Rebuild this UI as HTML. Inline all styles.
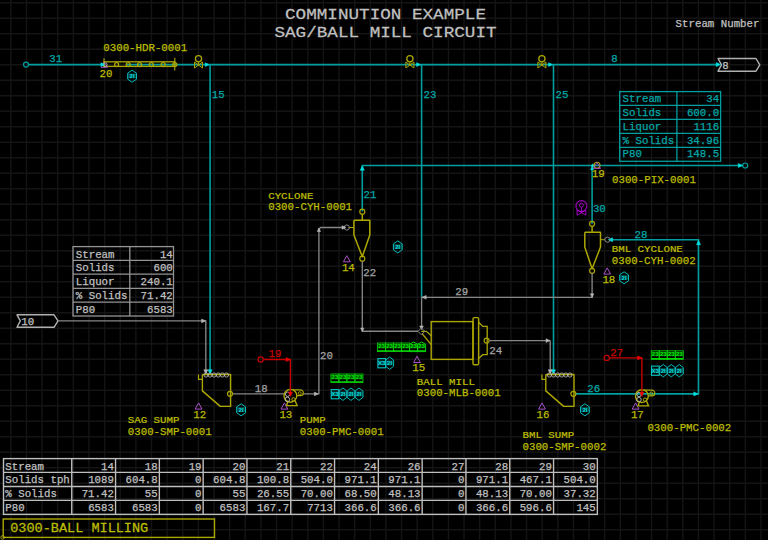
<!DOCTYPE html>
<html><head><meta charset="utf-8"><title>Comminution Example - SAG/Ball Mill Circuit</title>
<style>
html,body{margin:0;padding:0;background:#000;}
body{width:768px;height:540px;overflow:hidden;}
svg{display:block;font-family:"Liberation Mono",monospace;}
svg text{white-space:pre;}
</style></head><body>
<svg width="768" height="540" viewBox="0 0 768 540">
<rect width="768" height="540" fill="#000"/>
<path d="M10.85 0V540M26.48 0V540M42.10 0V540M57.73 0V540M73.36 0V540M88.98 0V540M104.61 0V540M120.24 0V540M135.87 0V540M151.49 0V540M167.12 0V540M182.75 0V540M198.37 0V540M214.00 0V540M229.63 0V540M245.25 0V540M260.88 0V540M276.51 0V540M292.14 0V540M307.76 0V540M323.39 0V540M339.02 0V540M354.64 0V540M370.27 0V540M385.90 0V540M401.53 0V540M417.15 0V540M432.78 0V540M448.41 0V540M464.03 0V540M479.66 0V540M495.29 0V540M510.91 0V540M526.54 0V540M542.17 0V540M557.80 0V540M573.42 0V540M589.05 0V540M604.68 0V540M620.30 0V540M635.93 0V540M651.56 0V540M667.18 0V540M682.81 0V540M698.44 0V540M714.07 0V540M729.69 0V540M745.32 0V540M760.95 0V540M0 2.80H768M0 18.30H768M0 33.80H768M0 49.30H768M0 64.80H768M0 80.30H768M0 95.80H768M0 111.30H768M0 126.80H768M0 142.30H768M0 157.80H768M0 173.30H768M0 188.80H768M0 204.30H768M0 219.80H768M0 235.30H768M0 250.80H768M0 266.30H768M0 281.80H768M0 297.30H768M0 312.80H768M0 328.30H768M0 343.80H768M0 359.30H768M0 374.80H768M0 390.30H768M0 405.80H768M0 421.30H768M0 436.80H768M0 452.30H768M0 467.80H768M0 483.30H768M0 498.80H768M0 514.30H768M0 529.80H768" stroke="#141414" stroke-width="1.4" fill="none"/>
<text transform="translate(385.50 18.75) scale(1.160 1)" font-size="15.20" fill="#c0c0c0" stroke="#c0c0c0" stroke-width="0.25" text-anchor="middle" font-weight="normal">COMMINUTION EXAMPLE</text>
<text transform="translate(385.50 37.00) scale(1.160 1)" font-size="15.20" fill="#c0c0c0" stroke="#c0c0c0" stroke-width="0.25" text-anchor="middle" font-weight="normal">SAG/BALL MILL CIRCUIT</text>
<text x="675.60" y="27.00" font-size="10.75" fill="#c0c0c0" stroke="#c0c0c0" stroke-width="0.25" text-anchor="start" font-weight="normal">Stream Number</text>
<path d="M28.80 64.60 L104.00 64.60" stroke="#009e9e" stroke-width="1.60" fill="none" />
<path d="M126.50 64.60 L719.00 64.60" stroke="#009e9e" stroke-width="1.60" fill="none" />
<circle cx="26.00" cy="64.60" r="2.50" stroke="#009e9e" stroke-width="1.20" fill="none"/>
<text x="49.20" y="62.40" font-size="10.75" fill="#00a8a8" stroke="#00a8a8" stroke-width="0.25" text-anchor="start" font-weight="normal">31</text>
<text x="611.30" y="62.40" font-size="10.75" fill="#00a8a8" stroke="#00a8a8" stroke-width="0.25" text-anchor="start" font-weight="normal">8</text>
<path d="M210.10 64.60 L210.10 373.00" stroke="#009e9e" stroke-width="1.60" fill="none" />
<path d="M421.60 64.60 L421.60 297.00" stroke="#009e9e" stroke-width="1.60" fill="none" />
<path d="M553.50 64.60 L553.50 373.00" stroke="#009e9e" stroke-width="1.60" fill="none" />
<path d="M210.10 374.00 L208.10 369.80 L212.10 369.80 Z" stroke="#00e0e0" stroke-width="0.60" fill="#00e0e0" stroke-linejoin="round"/>
<path d="M553.50 374.00 L551.50 369.80 L555.50 369.80 Z" stroke="#00e0e0" stroke-width="0.60" fill="#00e0e0" stroke-linejoin="round"/>
<text x="211.80" y="98.00" font-size="10.75" fill="#00a8a8" stroke="#00a8a8" stroke-width="0.25" text-anchor="start" font-weight="normal">15</text>
<text x="423.60" y="98.00" font-size="10.75" fill="#00a8a8" stroke="#00a8a8" stroke-width="0.25" text-anchor="start" font-weight="normal">23</text>
<text x="555.60" y="98.00" font-size="10.75" fill="#00a8a8" stroke="#00a8a8" stroke-width="0.25" text-anchor="start" font-weight="normal">25</text>
<path d="M362.30 211.50 L362.30 165.50 L742.50 165.50" stroke="#009e9e" stroke-width="1.60" fill="none" />
<circle cx="745.20" cy="165.50" r="2.50" stroke="#009e9e" stroke-width="1.20" fill="none"/>
<path d="M742.50 165.50 L738.30 163.50 L738.30 167.50 Z" stroke="#00e0e0" stroke-width="0.60" fill="#00e0e0" stroke-linejoin="round"/>
<path d="M362.30 166.00 L360.30 170.20 L364.30 170.20 Z" stroke="#00e0e0" stroke-width="0.60" fill="#00e0e0" stroke-linejoin="round"/>
<path d="M592.10 165.50 L592.10 223.80" stroke="#009e9e" stroke-width="1.60" fill="none" />
<path d="M592.10 166.50 L590.60 169.70 L593.60 169.70 Z" stroke="#00e0e0" stroke-width="0.60" fill="#00e0e0" stroke-linejoin="round"/>
<path d="M595.20 165.50 L592.00 164.00 L592.00 167.00 Z" stroke="#00e0e0" stroke-width="0.60" fill="#00e0e0" stroke-linejoin="round"/>
<text x="363.60" y="198.30" font-size="10.75" fill="#00a8a8" stroke="#00a8a8" stroke-width="0.25" text-anchor="start" font-weight="normal">21</text>
<text x="592.90" y="212.40" font-size="10.75" fill="#00a8a8" stroke="#00a8a8" stroke-width="0.25" text-anchor="start" font-weight="normal">30</text>
<path d="M610.00 239.70 L698.50 239.70 L698.50 393.90 L575.70 393.90" stroke="#009e9e" stroke-width="1.60" fill="none" />
<path d="M608.30 239.70 L612.50 237.70 L612.50 241.70 Z" stroke="#00e0e0" stroke-width="0.60" fill="#00e0e0" stroke-linejoin="round"/>
<path d="M698.50 240.50 L696.50 244.70 L700.50 244.70 Z" stroke="#00e0e0" stroke-width="0.60" fill="#00e0e0" stroke-linejoin="round"/>
<path d="M698.00 393.90 L693.80 391.90 L693.80 395.90 Z" stroke="#00e0e0" stroke-width="0.60" fill="#00e0e0" stroke-linejoin="round"/>
<text x="634.50" y="237.60" font-size="10.75" fill="#00a8a8" stroke="#00a8a8" stroke-width="0.25" text-anchor="start" font-weight="normal">28</text>
<text x="587.20" y="391.50" font-size="10.75" fill="#00a8a8" stroke="#00a8a8" stroke-width="0.25" text-anchor="start" font-weight="normal">26</text>
<circle cx="198.50" cy="58.70" r="3.10" stroke="#aca700" stroke-width="1.30" fill="none"/>
<path d="M198.50 61.80 L198.50 65.00" stroke="#aca700" stroke-width="1.00" fill="none" />
<path d="M194.50 62.00 L194.50 68.00 L202.50 62.00 L202.50 68.00 Z" stroke="#aca700" stroke-width="1.00" fill="none" stroke-linejoin="round"/>
<path d="M209.00 64.60 L205.20 62.80 L205.20 66.40 Z" stroke="#00e0e0" stroke-width="0.60" fill="#00e0e0" stroke-linejoin="round"/>
<circle cx="409.90" cy="58.70" r="3.10" stroke="#aca700" stroke-width="1.30" fill="none"/>
<path d="M409.90 61.80 L409.90 65.00" stroke="#aca700" stroke-width="1.00" fill="none" />
<path d="M405.90 62.00 L405.90 68.00 L413.90 62.00 L413.90 68.00 Z" stroke="#aca700" stroke-width="1.00" fill="none" stroke-linejoin="round"/>
<path d="M420.40 64.60 L416.60 62.80 L416.60 66.40 Z" stroke="#00e0e0" stroke-width="0.60" fill="#00e0e0" stroke-linejoin="round"/>
<circle cx="541.90" cy="58.70" r="3.10" stroke="#aca700" stroke-width="1.30" fill="none"/>
<path d="M541.90 61.80 L541.90 65.00" stroke="#aca700" stroke-width="1.00" fill="none" />
<path d="M537.90 62.00 L537.90 68.00 L545.90 62.00 L545.90 68.00 Z" stroke="#aca700" stroke-width="1.00" fill="none" stroke-linejoin="round"/>
<path d="M552.40 64.60 L548.60 62.80 L548.60 66.40 Z" stroke="#00e0e0" stroke-width="0.60" fill="#00e0e0" stroke-linejoin="round"/>
<text x="103.30" y="51.30" font-size="10.75" fill="#bcbc00" stroke="#bcbc00" stroke-width="0.25" text-anchor="start" font-weight="normal">0300-HDR-0001</text>
<rect x="104" y="61.8" width="70.8" height="4.6" stroke="#aca700" stroke-width="1.3" fill="none"/>
<path d="M104.00 58.30 L104.00 67.50" stroke="#aca700" stroke-width="1.10" fill="none" />
<path d="M174.80 57.80 L174.80 70.60" stroke="#aca700" stroke-width="1.10" fill="none" />
<circle cx="116.60" cy="64.60" r="2.00" stroke="#aca700" stroke-width="1.30" fill="none"/>
<circle cx="128.20" cy="64.60" r="2.00" stroke="#aca700" stroke-width="1.30" fill="none"/>
<circle cx="139.60" cy="64.60" r="2.00" stroke="#aca700" stroke-width="1.30" fill="none"/>
<circle cx="151.40" cy="64.60" r="2.00" stroke="#aca700" stroke-width="1.30" fill="none"/>
<circle cx="163.20" cy="64.60" r="2.00" stroke="#aca700" stroke-width="1.30" fill="none"/>
<circle cx="174.80" cy="64.60" r="2.00" stroke="#aca700" stroke-width="1.30" fill="none"/>
<path d="M101.00 67.30 L107.60 67.30 L104.30 62.50 Z" stroke="#a850c8" stroke-width="0.90" fill="none" stroke-linejoin="round"/>
<circle cx="105.20" cy="64.60" r="1.90" stroke="#c0c0c0" stroke-width="0.80" fill="none"/>
<path d="M104.50 64.60 L100.90 62.80 L100.90 66.40 Z" stroke="#00e0e0" stroke-width="0.60" fill="#00e0e0" stroke-linejoin="round"/>
<text x="99.60" y="76.50" font-size="10.75" fill="#bcbc00" stroke="#bcbc00" stroke-width="0.25" text-anchor="start" font-weight="normal">20</text>
<path d="M132.10 70.20 L136.50 73.20 L136.50 79.20 L132.10 82.20 L127.70 79.20 L127.70 73.20 Z" stroke="#00c4c4" stroke-width="0.95" fill="none" stroke-linejoin="round"/>
<rect x="127.70" y="73.40" width="8.80" height="5.00" fill="#00c4c4" fill-opacity="0.32" stroke="none"/>
<text x="132.10" y="78.20" font-size="6" fill="#00e0e0" text-anchor="middle" font-weight="bold" font-family="Liberation Sans">2I</text>
<path d="M397.80 240.90 L402.20 243.90 L402.20 249.90 L397.80 252.90 L393.40 249.90 L393.40 243.90 Z" stroke="#00c4c4" stroke-width="0.95" fill="none" stroke-linejoin="round"/>
<rect x="393.40" y="244.10" width="8.80" height="5.00" fill="#00c4c4" fill-opacity="0.32" stroke="none"/>
<text x="397.80" y="248.90" font-size="6" fill="#00e0e0" text-anchor="middle" font-weight="bold" font-family="Liberation Sans">2I</text>
<path d="M241.10 403.80 L245.50 406.80 L245.50 412.80 L241.10 415.80 L236.70 412.80 L236.70 406.80 Z" stroke="#00c4c4" stroke-width="0.95" fill="none" stroke-linejoin="round"/>
<rect x="236.70" y="407.00" width="8.80" height="5.00" fill="#00c4c4" fill-opacity="0.32" stroke="none"/>
<text x="241.10" y="411.80" font-size="6" fill="#00e0e0" text-anchor="middle" font-weight="bold" font-family="Liberation Sans">2I</text>
<path d="M584.90 403.80 L589.30 406.80 L589.30 412.80 L584.90 415.80 L580.50 412.80 L580.50 406.80 Z" stroke="#00c4c4" stroke-width="0.95" fill="none" stroke-linejoin="round"/>
<rect x="580.50" y="407.00" width="8.80" height="5.00" fill="#00c4c4" fill-opacity="0.32" stroke="none"/>
<text x="584.90" y="411.80" font-size="6" fill="#00e0e0" text-anchor="middle" font-weight="bold" font-family="Liberation Sans">2I</text>
<path d="M624.10 271.80 L628.50 274.80 L628.50 280.80 L624.10 283.80 L619.70 280.80 L619.70 274.80 Z" stroke="#00c4c4" stroke-width="0.95" fill="none" stroke-linejoin="round"/>
<rect x="619.70" y="275.00" width="8.80" height="5.00" fill="#00c4c4" fill-opacity="0.32" stroke="none"/>
<text x="624.10" y="279.80" font-size="6" fill="#00e0e0" text-anchor="middle" font-weight="bold" font-family="Liberation Sans">2I</text>
<path d="M718.00 58.50 L756.00 58.50 L759.80 64.80 L756.00 71.20 L718.00 71.20 L721.50 64.80 Z" stroke="#b0b0b0" stroke-width="1.40" fill="none" stroke-linejoin="round"/>
<text x="722.30" y="68.80" font-size="10.75" fill="#c0c0c0" stroke="#c0c0c0" stroke-width="0.25" text-anchor="start" font-weight="normal">8</text>
<path d="M720.50 64.60 L716.30 62.60 L716.30 66.60 Z" stroke="#00e0e0" stroke-width="0.60" fill="#00e0e0" stroke-linejoin="round"/>
<path d="M17.00 314.80 L54.00 314.80 L58.00 320.90 L54.00 327.30 L17.00 327.30 L20.30 320.90 Z" stroke="#b0b0b0" stroke-width="1.40" fill="none" stroke-linejoin="round"/>
<text x="21.20" y="325.20" font-size="10.75" fill="#c0c0c0" stroke="#c0c0c0" stroke-width="0.25" text-anchor="start" font-weight="normal">10</text>
<path d="M58.00 320.90 L205.80 320.90 L205.80 373.00" stroke="#868686" stroke-width="1.35" fill="none" />
<path d="M205.60 320.90 L201.60 319.10 L201.60 322.70 Z" stroke="#b4b4b4" stroke-width="0.60" fill="#b4b4b4" stroke-linejoin="round"/>
<path d="M205.80 374.00 L203.80 369.80 L207.80 369.80 Z" stroke="#b4b4b4" stroke-width="0.60" fill="#b4b4b4" stroke-linejoin="round"/>
<rect x="619.70" y="91.60" width="100.90" height="69.70" stroke="#009e9e" stroke-width="1.3" fill="none"/>
<path d="M676.90 91.60 L676.90 161.30" stroke="#009e9e" stroke-width="1.30" fill="none" />
<path d="M619.70 105.40 L720.60 105.40" stroke="#009e9e" stroke-width="1.30" fill="none" />
<path d="M619.70 119.40 L720.60 119.40" stroke="#009e9e" stroke-width="1.30" fill="none" />
<path d="M619.70 133.40 L720.60 133.40" stroke="#009e9e" stroke-width="1.30" fill="none" />
<path d="M619.70 147.30 L720.60 147.30" stroke="#009e9e" stroke-width="1.30" fill="none" />
<text x="622.60" y="101.70" font-size="10.75" fill="#00a8a8" stroke="#00a8a8" stroke-width="0.25" text-anchor="start" font-weight="normal">Stream</text>
<text x="719.20" y="101.70" font-size="10.75" fill="#00a8a8" stroke="#00a8a8" stroke-width="0.25" text-anchor="end" font-weight="normal">34</text>
<text x="622.60" y="115.50" font-size="10.75" fill="#00a8a8" stroke="#00a8a8" stroke-width="0.25" text-anchor="start" font-weight="normal">Solids</text>
<text x="719.20" y="115.50" font-size="10.75" fill="#00a8a8" stroke="#00a8a8" stroke-width="0.25" text-anchor="end" font-weight="normal">600.0</text>
<text x="622.60" y="129.50" font-size="10.75" fill="#00a8a8" stroke="#00a8a8" stroke-width="0.25" text-anchor="start" font-weight="normal">Liquor</text>
<text x="719.20" y="129.50" font-size="10.75" fill="#00a8a8" stroke="#00a8a8" stroke-width="0.25" text-anchor="end" font-weight="normal">1116</text>
<text x="622.60" y="143.50" font-size="10.75" fill="#00a8a8" stroke="#00a8a8" stroke-width="0.25" text-anchor="start" font-weight="normal">% Solids</text>
<text x="719.20" y="143.50" font-size="10.75" fill="#00a8a8" stroke="#00a8a8" stroke-width="0.25" text-anchor="end" font-weight="normal">34.96</text>
<text x="622.60" y="157.40" font-size="10.75" fill="#00a8a8" stroke="#00a8a8" stroke-width="0.25" text-anchor="start" font-weight="normal">P80</text>
<text x="719.20" y="157.40" font-size="10.75" fill="#00a8a8" stroke="#00a8a8" stroke-width="0.25" text-anchor="end" font-weight="normal">148.5</text>
<rect x="73.00" y="246.60" width="100.50" height="69.40" stroke="#949494" stroke-width="1.3" fill="none"/>
<path d="M129.80 246.60 L129.80 316.00" stroke="#949494" stroke-width="1.30" fill="none" />
<path d="M73.00 260.30 L173.50 260.30" stroke="#949494" stroke-width="1.30" fill="none" />
<path d="M73.00 274.20 L173.50 274.20" stroke="#949494" stroke-width="1.30" fill="none" />
<path d="M73.00 288.30 L173.50 288.30" stroke="#949494" stroke-width="1.30" fill="none" />
<path d="M73.00 302.20 L173.50 302.20" stroke="#949494" stroke-width="1.30" fill="none" />
<text x="75.80" y="257.50" font-size="10.75" fill="#c0c0c0" stroke="#c0c0c0" stroke-width="0.25" text-anchor="start" font-weight="normal">Stream</text>
<text x="172.80" y="257.50" font-size="10.75" fill="#c0c0c0" stroke="#c0c0c0" stroke-width="0.25" text-anchor="end" font-weight="normal">14</text>
<text x="75.80" y="271.20" font-size="10.75" fill="#c0c0c0" stroke="#c0c0c0" stroke-width="0.25" text-anchor="start" font-weight="normal">Solids</text>
<text x="172.80" y="271.20" font-size="10.75" fill="#c0c0c0" stroke="#c0c0c0" stroke-width="0.25" text-anchor="end" font-weight="normal">600</text>
<text x="75.80" y="285.10" font-size="10.75" fill="#c0c0c0" stroke="#c0c0c0" stroke-width="0.25" text-anchor="start" font-weight="normal">Liquor</text>
<text x="172.80" y="285.10" font-size="10.75" fill="#c0c0c0" stroke="#c0c0c0" stroke-width="0.25" text-anchor="end" font-weight="normal">240.1</text>
<text x="75.80" y="299.20" font-size="10.75" fill="#c0c0c0" stroke="#c0c0c0" stroke-width="0.25" text-anchor="start" font-weight="normal">% Solids</text>
<text x="172.80" y="299.20" font-size="10.75" fill="#c0c0c0" stroke="#c0c0c0" stroke-width="0.25" text-anchor="end" font-weight="normal">71.42</text>
<text x="75.80" y="313.10" font-size="10.75" fill="#c0c0c0" stroke="#c0c0c0" stroke-width="0.25" text-anchor="start" font-weight="normal">P80</text>
<text x="172.80" y="313.10" font-size="10.75" fill="#c0c0c0" stroke="#c0c0c0" stroke-width="0.25" text-anchor="end" font-weight="normal">6583</text>
<rect x="3.50" y="458.60" width="593.85" height="55.80" stroke="#bebebe" stroke-width="1.4" fill="none"/>
<path d="M71.75 458.60 L71.75 514.40" stroke="#bebebe" stroke-width="1.40" fill="none" />
<path d="M115.55 458.60 L115.55 514.40" stroke="#bebebe" stroke-width="1.40" fill="none" />
<path d="M159.35 458.60 L159.35 514.40" stroke="#bebebe" stroke-width="1.40" fill="none" />
<path d="M203.15 458.60 L203.15 514.40" stroke="#bebebe" stroke-width="1.40" fill="none" />
<path d="M246.95 458.60 L246.95 514.40" stroke="#bebebe" stroke-width="1.40" fill="none" />
<path d="M290.75 458.60 L290.75 514.40" stroke="#bebebe" stroke-width="1.40" fill="none" />
<path d="M334.55 458.60 L334.55 514.40" stroke="#bebebe" stroke-width="1.40" fill="none" />
<path d="M378.35 458.60 L378.35 514.40" stroke="#bebebe" stroke-width="1.40" fill="none" />
<path d="M422.15 458.60 L422.15 514.40" stroke="#bebebe" stroke-width="1.40" fill="none" />
<path d="M465.95 458.60 L465.95 514.40" stroke="#bebebe" stroke-width="1.40" fill="none" />
<path d="M509.75 458.60 L509.75 514.40" stroke="#bebebe" stroke-width="1.40" fill="none" />
<path d="M553.55 458.60 L553.55 514.40" stroke="#bebebe" stroke-width="1.40" fill="none" />
<path d="M3.50 472.40 L597.35 472.40" stroke="#bebebe" stroke-width="1.40" fill="none" />
<path d="M3.50 486.50 L597.35 486.50" stroke="#bebebe" stroke-width="1.40" fill="none" />
<path d="M3.50 500.40 L597.35 500.40" stroke="#bebebe" stroke-width="1.40" fill="none" />
<text x="5.30" y="469.50" font-size="10.75" fill="#c0c0c0" stroke="#c0c0c0" stroke-width="0.25" text-anchor="start" font-weight="normal">Stream</text>
<text x="113.95" y="469.50" font-size="10.75" fill="#c0c0c0" stroke="#c0c0c0" stroke-width="0.25" text-anchor="end" font-weight="normal">14</text>
<text x="157.75" y="469.50" font-size="10.75" fill="#c0c0c0" stroke="#c0c0c0" stroke-width="0.25" text-anchor="end" font-weight="normal">18</text>
<text x="201.55" y="469.50" font-size="10.75" fill="#c0c0c0" stroke="#c0c0c0" stroke-width="0.25" text-anchor="end" font-weight="normal">19</text>
<text x="245.35" y="469.50" font-size="10.75" fill="#c0c0c0" stroke="#c0c0c0" stroke-width="0.25" text-anchor="end" font-weight="normal">20</text>
<text x="289.15" y="469.50" font-size="10.75" fill="#c0c0c0" stroke="#c0c0c0" stroke-width="0.25" text-anchor="end" font-weight="normal">21</text>
<text x="332.95" y="469.50" font-size="10.75" fill="#c0c0c0" stroke="#c0c0c0" stroke-width="0.25" text-anchor="end" font-weight="normal">22</text>
<text x="376.75" y="469.50" font-size="10.75" fill="#c0c0c0" stroke="#c0c0c0" stroke-width="0.25" text-anchor="end" font-weight="normal">24</text>
<text x="420.55" y="469.50" font-size="10.75" fill="#c0c0c0" stroke="#c0c0c0" stroke-width="0.25" text-anchor="end" font-weight="normal">26</text>
<text x="464.35" y="469.50" font-size="10.75" fill="#c0c0c0" stroke="#c0c0c0" stroke-width="0.25" text-anchor="end" font-weight="normal">27</text>
<text x="508.15" y="469.50" font-size="10.75" fill="#c0c0c0" stroke="#c0c0c0" stroke-width="0.25" text-anchor="end" font-weight="normal">28</text>
<text x="551.95" y="469.50" font-size="10.75" fill="#c0c0c0" stroke="#c0c0c0" stroke-width="0.25" text-anchor="end" font-weight="normal">29</text>
<text x="595.75" y="469.50" font-size="10.75" fill="#c0c0c0" stroke="#c0c0c0" stroke-width="0.25" text-anchor="end" font-weight="normal">30</text>
<text x="5.30" y="483.30" font-size="10.75" fill="#c0c0c0" stroke="#c0c0c0" stroke-width="0.25" text-anchor="start" font-weight="normal">Solids tph</text>
<text x="113.95" y="483.30" font-size="10.75" fill="#c0c0c0" stroke="#c0c0c0" stroke-width="0.25" text-anchor="end" font-weight="normal">1089</text>
<text x="157.75" y="483.30" font-size="10.75" fill="#c0c0c0" stroke="#c0c0c0" stroke-width="0.25" text-anchor="end" font-weight="normal">604.8</text>
<text x="201.55" y="483.30" font-size="10.75" fill="#c0c0c0" stroke="#c0c0c0" stroke-width="0.25" text-anchor="end" font-weight="normal">0</text>
<text x="245.35" y="483.30" font-size="10.75" fill="#c0c0c0" stroke="#c0c0c0" stroke-width="0.25" text-anchor="end" font-weight="normal">604.8</text>
<text x="289.15" y="483.30" font-size="10.75" fill="#c0c0c0" stroke="#c0c0c0" stroke-width="0.25" text-anchor="end" font-weight="normal">100.8</text>
<text x="332.95" y="483.30" font-size="10.75" fill="#c0c0c0" stroke="#c0c0c0" stroke-width="0.25" text-anchor="end" font-weight="normal">504.0</text>
<text x="376.75" y="483.30" font-size="10.75" fill="#c0c0c0" stroke="#c0c0c0" stroke-width="0.25" text-anchor="end" font-weight="normal">971.1</text>
<text x="420.55" y="483.30" font-size="10.75" fill="#c0c0c0" stroke="#c0c0c0" stroke-width="0.25" text-anchor="end" font-weight="normal">971.1</text>
<text x="464.35" y="483.30" font-size="10.75" fill="#c0c0c0" stroke="#c0c0c0" stroke-width="0.25" text-anchor="end" font-weight="normal">0</text>
<text x="508.15" y="483.30" font-size="10.75" fill="#c0c0c0" stroke="#c0c0c0" stroke-width="0.25" text-anchor="end" font-weight="normal">971.1</text>
<text x="551.95" y="483.30" font-size="10.75" fill="#c0c0c0" stroke="#c0c0c0" stroke-width="0.25" text-anchor="end" font-weight="normal">467.1</text>
<text x="595.75" y="483.30" font-size="10.75" fill="#c0c0c0" stroke="#c0c0c0" stroke-width="0.25" text-anchor="end" font-weight="normal">504.0</text>
<text x="5.30" y="497.40" font-size="10.75" fill="#c0c0c0" stroke="#c0c0c0" stroke-width="0.25" text-anchor="start" font-weight="normal">% Solids</text>
<text x="113.95" y="497.40" font-size="10.75" fill="#c0c0c0" stroke="#c0c0c0" stroke-width="0.25" text-anchor="end" font-weight="normal">71.42</text>
<text x="157.75" y="497.40" font-size="10.75" fill="#c0c0c0" stroke="#c0c0c0" stroke-width="0.25" text-anchor="end" font-weight="normal">55</text>
<text x="201.55" y="497.40" font-size="10.75" fill="#c0c0c0" stroke="#c0c0c0" stroke-width="0.25" text-anchor="end" font-weight="normal">0</text>
<text x="245.35" y="497.40" font-size="10.75" fill="#c0c0c0" stroke="#c0c0c0" stroke-width="0.25" text-anchor="end" font-weight="normal">55</text>
<text x="289.15" y="497.40" font-size="10.75" fill="#c0c0c0" stroke="#c0c0c0" stroke-width="0.25" text-anchor="end" font-weight="normal">26.55</text>
<text x="332.95" y="497.40" font-size="10.75" fill="#c0c0c0" stroke="#c0c0c0" stroke-width="0.25" text-anchor="end" font-weight="normal">70.00</text>
<text x="376.75" y="497.40" font-size="10.75" fill="#c0c0c0" stroke="#c0c0c0" stroke-width="0.25" text-anchor="end" font-weight="normal">68.50</text>
<text x="420.55" y="497.40" font-size="10.75" fill="#c0c0c0" stroke="#c0c0c0" stroke-width="0.25" text-anchor="end" font-weight="normal">48.13</text>
<text x="464.35" y="497.40" font-size="10.75" fill="#c0c0c0" stroke="#c0c0c0" stroke-width="0.25" text-anchor="end" font-weight="normal">0</text>
<text x="508.15" y="497.40" font-size="10.75" fill="#c0c0c0" stroke="#c0c0c0" stroke-width="0.25" text-anchor="end" font-weight="normal">48.13</text>
<text x="551.95" y="497.40" font-size="10.75" fill="#c0c0c0" stroke="#c0c0c0" stroke-width="0.25" text-anchor="end" font-weight="normal">70.00</text>
<text x="595.75" y="497.40" font-size="10.75" fill="#c0c0c0" stroke="#c0c0c0" stroke-width="0.25" text-anchor="end" font-weight="normal">37.32</text>
<text x="5.30" y="511.30" font-size="10.75" fill="#c0c0c0" stroke="#c0c0c0" stroke-width="0.25" text-anchor="start" font-weight="normal">P80</text>
<text x="113.95" y="511.30" font-size="10.75" fill="#c0c0c0" stroke="#c0c0c0" stroke-width="0.25" text-anchor="end" font-weight="normal">6583</text>
<text x="157.75" y="511.30" font-size="10.75" fill="#c0c0c0" stroke="#c0c0c0" stroke-width="0.25" text-anchor="end" font-weight="normal">6583</text>
<text x="201.55" y="511.30" font-size="10.75" fill="#c0c0c0" stroke="#c0c0c0" stroke-width="0.25" text-anchor="end" font-weight="normal">0</text>
<text x="245.35" y="511.30" font-size="10.75" fill="#c0c0c0" stroke="#c0c0c0" stroke-width="0.25" text-anchor="end" font-weight="normal">6583</text>
<text x="289.15" y="511.30" font-size="10.75" fill="#c0c0c0" stroke="#c0c0c0" stroke-width="0.25" text-anchor="end" font-weight="normal">167.7</text>
<text x="332.95" y="511.30" font-size="10.75" fill="#c0c0c0" stroke="#c0c0c0" stroke-width="0.25" text-anchor="end" font-weight="normal">7713</text>
<text x="376.75" y="511.30" font-size="10.75" fill="#c0c0c0" stroke="#c0c0c0" stroke-width="0.25" text-anchor="end" font-weight="normal">366.6</text>
<text x="420.55" y="511.30" font-size="10.75" fill="#c0c0c0" stroke="#c0c0c0" stroke-width="0.25" text-anchor="end" font-weight="normal">366.6</text>
<text x="464.35" y="511.30" font-size="10.75" fill="#c0c0c0" stroke="#c0c0c0" stroke-width="0.25" text-anchor="end" font-weight="normal">0</text>
<text x="508.15" y="511.30" font-size="10.75" fill="#c0c0c0" stroke="#c0c0c0" stroke-width="0.25" text-anchor="end" font-weight="normal">366.6</text>
<text x="551.95" y="511.30" font-size="10.75" fill="#c0c0c0" stroke="#c0c0c0" stroke-width="0.25" text-anchor="end" font-weight="normal">596.6</text>
<text x="595.75" y="511.30" font-size="10.75" fill="#c0c0c0" stroke="#c0c0c0" stroke-width="0.25" text-anchor="end" font-weight="normal">145</text>
<rect x="3.2" y="519" width="211.3" height="18.4" stroke="#aca700" stroke-width="1.4" fill="none"/>
<text transform="translate(10.20 532.00) scale(1.084 1)" font-size="12.50" fill="#bcbc00" stroke="#bcbc00" stroke-width="0.25" text-anchor="start" font-weight="normal">0300-BALL MILLING</text>
<circle cx="2.60" cy="537.40" r="1.80" stroke="#aca700" stroke-width="0.90" fill="none"/>
<circle cx="362.30" cy="211.70" r="2.50" stroke="#aca700" stroke-width="1.20" fill="none"/>
<path d="M362.30 214.20 L362.30 220.20" stroke="#aca700" stroke-width="1.50" fill="none" />
<path d="M353.90 220.20 L369.80 220.20 L369.80 235.00 L362.30 256.70 L353.90 235.00 L353.90 220.20" stroke="#aca700" stroke-width="1.50" fill="none" stroke-linejoin="round"/>
<circle cx="362.30" cy="258.70" r="2.50" stroke="#aca700" stroke-width="1.20" fill="none"/>
<circle cx="592.10" cy="223.80" r="2.50" stroke="#aca700" stroke-width="1.20" fill="none"/>
<path d="M592.10 226.30 L592.10 232.30" stroke="#aca700" stroke-width="1.50" fill="none" />
<path d="M584.80 232.30 L600.50 232.30 L600.50 247.10 L592.10 268.80 L584.80 247.10 L584.80 232.30" stroke="#aca700" stroke-width="1.50" fill="none" stroke-linejoin="round"/>
<circle cx="592.10" cy="270.80" r="2.50" stroke="#aca700" stroke-width="1.20" fill="none"/>
<path d="M353.90 227.50 L348.50 227.50" stroke="#aca700" stroke-width="1.00" fill="none" />
<circle cx="346.80" cy="227.50" r="2.60" stroke="#868686" stroke-width="1.00" fill="none"/>
<path d="M344.00 227.50 L320.50 227.50 L318.90 229.20 L318.90 393.90 L303.00 393.90" stroke="#868686" stroke-width="1.35" fill="none" stroke-linejoin="round"/>
<path d="M346.00 227.50 L342.00 225.70 L342.00 229.30 Z" stroke="#b4b4b4" stroke-width="0.60" fill="#b4b4b4" stroke-linejoin="round"/>
<path d="M318.90 228.00 L317.30 231.50 L320.50 231.50 Z" stroke="#b4b4b4" stroke-width="0.60" fill="#b4b4b4" stroke-linejoin="round"/>
<path d="M318.30 393.90 L314.30 392.10 L314.30 395.70 Z" stroke="#b4b4b4" stroke-width="0.60" fill="#b4b4b4" stroke-linejoin="round"/>
<text x="320.00" y="358.90" font-size="10.75" fill="#a4a4a4" stroke="#a4a4a4" stroke-width="0.25" text-anchor="start" font-weight="normal">20</text>
<text transform="translate(268.20 198.60) scale(1.110 1)" font-size="9.70" fill="#bcbc00" stroke="#bcbc00" stroke-width="0.25" text-anchor="start" font-weight="normal">CYCLONE</text>
<text x="268.20" y="210.00" font-size="10.75" fill="#bcbc00" stroke="#bcbc00" stroke-width="0.25" text-anchor="start" font-weight="normal">0300-CYH-0001</text>
<path d="M362.30 261.50 L362.30 331.20 L418.00 331.20" stroke="#868686" stroke-width="1.35" fill="none" />
<path d="M362.30 331.50 L360.70 328.00 L363.90 328.00 Z" stroke="#b4b4b4" stroke-width="0.60" fill="#b4b4b4" stroke-linejoin="round"/>
<text x="363.20" y="276.30" font-size="10.75" fill="#a4a4a4" stroke="#a4a4a4" stroke-width="0.25" text-anchor="start" font-weight="normal">22</text>
<path d="M600.50 239.70 L605.00 239.70" stroke="#aca700" stroke-width="1.00" fill="none" />
<circle cx="607.50" cy="239.70" r="2.60" stroke="#868686" stroke-width="1.00" fill="none"/>
<text transform="translate(611.80 252.40) scale(1.110 1)" font-size="9.70" fill="#bcbc00" stroke="#bcbc00" stroke-width="0.25" text-anchor="start" font-weight="normal">BML CYCLONE</text>
<text x="611.80" y="263.90" font-size="10.75" fill="#bcbc00" stroke="#bcbc00" stroke-width="0.25" text-anchor="start" font-weight="normal">0300-CYH-0002</text>
<path d="M592.10 273.20 L592.10 297.30 L421.60 297.30 L421.60 328.00" stroke="#868686" stroke-width="1.35" fill="none" />
<path d="M592.10 297.60 L590.40 293.80 L593.80 293.80 Z" stroke="#b4b4b4" stroke-width="0.60" fill="#b4b4b4" stroke-linejoin="round"/>
<path d="M422.00 297.30 L426.20 295.50 L426.20 299.10 Z" stroke="#b4b4b4" stroke-width="0.60" fill="#b4b4b4" stroke-linejoin="round"/>
<path d="M421.50 329.50 L419.70 326.00 L423.30 326.00 Z" stroke="#b4b4b4" stroke-width="0.60" fill="#b4b4b4" stroke-linejoin="round"/>
<text x="455.20" y="294.60" font-size="10.75" fill="#a4a4a4" stroke="#a4a4a4" stroke-width="0.25" text-anchor="start" font-weight="normal">29</text>
<text x="612.00" y="183.20" font-size="10.75" fill="#bcbc00" stroke="#bcbc00" stroke-width="0.25" text-anchor="start" font-weight="normal">0300-PIX-0001</text>
<circle cx="597.00" cy="165.20" r="3.00" stroke="#aca700" stroke-width="1.10" fill="none"/>
<path d="M593.40 168.40 L600.50 168.40 L597.00 162.50 Z" stroke="#a850c8" stroke-width="0.90" fill="none" stroke-linejoin="round"/>
<text x="591.80" y="177.40" font-size="10.75" fill="#bcbc00" stroke="#bcbc00" stroke-width="0.25" text-anchor="start" font-weight="normal">19</text>
<circle cx="581.40" cy="206.10" r="5.50" stroke="#a000c0" stroke-width="1.10" fill="none"/>
<circle cx="581.40" cy="205.20" r="2.00" stroke="#a000c0" stroke-width="1.00" fill="none"/>
<path d="M581.40 207.20 L581.40 212.60" stroke="#a000c0" stroke-width="1.00" fill="none" />
<path d="M577.00 210.10 L577.00 215.20 L585.80 210.10 L585.80 215.20 Z" stroke="#a000c0" stroke-width="1.00" fill="none" stroke-linejoin="round"/>
<path d="M346.80 255.60 L350.20 261.80 L343.40 261.80 Z" stroke="#a850c8" stroke-width="1.00" fill="none" stroke-linejoin="round"/>
<text x="341.90" y="270.60" font-size="10.75" fill="#bcbc00" stroke="#bcbc00" stroke-width="0.25" text-anchor="start" font-weight="normal">14</text>
<path d="M198.60 402.90 L202.00 409.10 L195.20 409.10 Z" stroke="#a850c8" stroke-width="1.00" fill="none" stroke-linejoin="round"/>
<text x="193.20" y="417.60" font-size="10.75" fill="#bcbc00" stroke="#bcbc00" stroke-width="0.25" text-anchor="start" font-weight="normal">12</text>
<path d="M417.00 356.30 L420.40 362.50 L413.60 362.50 Z" stroke="#a850c8" stroke-width="1.00" fill="none" stroke-linejoin="round"/>
<text x="412.30" y="371.30" font-size="10.75" fill="#bcbc00" stroke="#bcbc00" stroke-width="0.25" text-anchor="start" font-weight="normal">15</text>
<path d="M542.00 402.90 L545.40 409.10 L538.60 409.10 Z" stroke="#a850c8" stroke-width="1.00" fill="none" stroke-linejoin="round"/>
<text x="536.60" y="417.60" font-size="10.75" fill="#bcbc00" stroke="#bcbc00" stroke-width="0.25" text-anchor="start" font-weight="normal">16</text>
<path d="M607.20 267.90 L610.60 274.10 L603.80 274.10 Z" stroke="#a850c8" stroke-width="1.00" fill="none" stroke-linejoin="round"/>
<text x="602.40" y="282.60" font-size="10.75" fill="#bcbc00" stroke="#bcbc00" stroke-width="0.25" text-anchor="start" font-weight="normal">18</text>
<path d="M284.40 402.90 L287.80 409.10 L281.00 409.10 Z" stroke="#a850c8" stroke-width="1.00" fill="none" stroke-linejoin="round"/>
<text x="279.40" y="417.60" font-size="10.75" fill="#bcbc00" stroke="#bcbc00" stroke-width="0.25" text-anchor="start" font-weight="normal">13</text>
<path d="M635.60 402.90 L639.00 409.10 L632.20 409.10 Z" stroke="#a850c8" stroke-width="1.00" fill="none" stroke-linejoin="round"/>
<text x="630.90" y="417.70" font-size="10.75" fill="#bcbc00" stroke="#bcbc00" stroke-width="0.25" text-anchor="start" font-weight="normal">17</text>
<path d="M202.40 374.50 L230.60 374.50 L230.60 406.40 L220.30 406.40 L202.40 390.90 L202.40 374.50" stroke="#aca700" stroke-width="1.40" fill="none" stroke-linejoin="round"/>
<path d="M198.50 374.50 L198.50 379.30 L202.40 379.30" stroke="#aca700" stroke-width="1.20" fill="none" />
<circle cx="206.00" cy="375.00" r="2.10" stroke="#c0c0c0" stroke-width="0.80" fill="none"/>
<circle cx="210.10" cy="375.00" r="2.10" stroke="#c0c0c0" stroke-width="0.80" fill="none"/>
<circle cx="214.20" cy="375.00" r="2.10" stroke="#c0c0c0" stroke-width="0.80" fill="none"/>
<circle cx="218.30" cy="375.00" r="2.10" stroke="#c0c0c0" stroke-width="0.80" fill="none"/>
<circle cx="222.40" cy="375.00" r="2.10" stroke="#c0c0c0" stroke-width="0.80" fill="none"/>
<circle cx="226.50" cy="375.00" r="2.10" stroke="#c0c0c0" stroke-width="0.80" fill="none"/>
<circle cx="230.00" cy="393.80" r="2.50" stroke="#aca700" stroke-width="1.20" fill="none"/>
<path d="M545.80 374.50 L574.00 374.50 L574.00 406.40 L563.70 406.40 L545.80 390.90 L545.80 374.50" stroke="#aca700" stroke-width="1.40" fill="none" stroke-linejoin="round"/>
<path d="M541.90 374.50 L541.90 379.30 L545.80 379.30" stroke="#aca700" stroke-width="1.20" fill="none" />
<circle cx="549.40" cy="375.00" r="2.10" stroke="#c0c0c0" stroke-width="0.80" fill="none"/>
<circle cx="553.50" cy="375.00" r="2.10" stroke="#c0c0c0" stroke-width="0.80" fill="none"/>
<circle cx="557.60" cy="375.00" r="2.10" stroke="#c0c0c0" stroke-width="0.80" fill="none"/>
<circle cx="561.70" cy="375.00" r="2.10" stroke="#c0c0c0" stroke-width="0.80" fill="none"/>
<circle cx="565.80" cy="375.00" r="2.10" stroke="#c0c0c0" stroke-width="0.80" fill="none"/>
<circle cx="569.90" cy="375.00" r="2.10" stroke="#c0c0c0" stroke-width="0.80" fill="none"/>
<circle cx="573.40" cy="393.80" r="2.50" stroke="#aca700" stroke-width="1.20" fill="none"/>
<path d="M233.00 393.90 L284.00 393.90" stroke="#868686" stroke-width="1.35" fill="none" />
<text x="254.80" y="391.80" font-size="10.75" fill="#a4a4a4" stroke="#a4a4a4" stroke-width="0.25" text-anchor="start" font-weight="normal">18</text>
<path d="M550.20 340.60 L550.20 373.00" stroke="#868686" stroke-width="1.35" fill="none" />
<path d="M550.20 374.00 L548.20 369.80 L552.20 369.80 Z" stroke="#b4b4b4" stroke-width="0.60" fill="#b4b4b4" stroke-linejoin="round"/>
<text transform="translate(127.80 422.80) scale(1.110 1)" font-size="9.70" fill="#bcbc00" stroke="#bcbc00" stroke-width="0.25" text-anchor="start" font-weight="normal">SAG SUMP</text>
<text x="127.80" y="435.10" font-size="10.75" fill="#bcbc00" stroke="#bcbc00" stroke-width="0.25" text-anchor="start" font-weight="normal">0300-SMP-0001</text>
<text transform="translate(522.50 437.80) scale(1.110 1)" font-size="9.70" fill="#bcbc00" stroke="#bcbc00" stroke-width="0.25" text-anchor="start" font-weight="normal">BML SUMP</text>
<text x="522.50" y="449.70" font-size="10.75" fill="#bcbc00" stroke="#bcbc00" stroke-width="0.25" text-anchor="start" font-weight="normal">0300-SMP-0002</text>
<circle cx="290.40" cy="395.80" r="6.40" stroke="#aca700" stroke-width="1.40" fill="none"/>
<path d="M292.90 389.80 H300.40 a2.9 2.9 0 0 1 0 5.8 H296.60" stroke="#aca700" stroke-width="1.2" fill="none"/>
<circle cx="299.70" cy="393.20" r="1.50" stroke="#aca700" stroke-width="0.90" fill="none"/>
<circle cx="293.50" cy="399.40" r="1.70" stroke="#aca700" stroke-width="1.00" fill="none"/>
<path d="M287.80 401.80 L286.60 405.60 L297.00 405.60 L295.00 400.60" stroke="#aca700" stroke-width="1.40" fill="none" />
<circle cx="287.60" cy="394.20" r="2.20" stroke="#c0c0c0" stroke-width="0.90" fill="none"/>
<circle cx="287.40" cy="399.40" r="2.30" stroke="#c0c0c0" stroke-width="0.90" fill="none"/>
<circle cx="641.90" cy="396.10" r="6.40" stroke="#aca700" stroke-width="1.40" fill="none"/>
<path d="M644.40 390.10 H651.90 a2.9 2.9 0 0 1 0 5.8 H648.10" stroke="#aca700" stroke-width="1.2" fill="none"/>
<circle cx="651.20" cy="393.50" r="1.50" stroke="#aca700" stroke-width="0.90" fill="none"/>
<circle cx="645.00" cy="399.70" r="1.70" stroke="#aca700" stroke-width="1.00" fill="none"/>
<path d="M639.30 402.10 L638.10 405.90 L648.50 405.90 L646.50 400.90" stroke="#aca700" stroke-width="1.40" fill="none" />
<circle cx="639.10" cy="394.50" r="2.20" stroke="#c0c0c0" stroke-width="0.90" fill="none"/>
<circle cx="638.90" cy="399.70" r="2.30" stroke="#c0c0c0" stroke-width="0.90" fill="none"/>
<circle cx="260.70" cy="359.50" r="2.60" stroke="#c80000" stroke-width="1.20" fill="none"/>
<path d="M263.50 359.50 L290.40 359.50 L290.40 394.50" stroke="#c80000" stroke-width="1.40" fill="none" />
<path d="M290.30 359.50 L286.10 357.60 L286.10 361.40 Z" stroke="#f00000" stroke-width="0.60" fill="#f00000" stroke-linejoin="round"/>
<path d="M290.40 396.50 L288.50 392.30 L292.30 392.30 Z" stroke="#f00000" stroke-width="0.60" fill="#f00000" stroke-linejoin="round"/>
<text x="268.60" y="357.00" font-size="10.75" fill="#c80000" stroke="#c80000" stroke-width="0.25" text-anchor="start" font-weight="normal">19</text>
<circle cx="606.70" cy="357.90" r="2.60" stroke="#c80000" stroke-width="1.20" fill="none"/>
<path d="M609.50 357.90 L641.90 357.90 L641.90 394.50" stroke="#c80000" stroke-width="1.40" fill="none" />
<path d="M641.80 357.90 L637.60 356.00 L637.60 359.80 Z" stroke="#f00000" stroke-width="0.60" fill="#f00000" stroke-linejoin="round"/>
<path d="M641.90 396.50 L640.00 392.30 L643.80 392.30 Z" stroke="#f00000" stroke-width="0.60" fill="#f00000" stroke-linejoin="round"/>
<text x="610.20" y="355.50" font-size="10.75" fill="#c80000" stroke="#c80000" stroke-width="0.25" text-anchor="start" font-weight="normal">27</text>
<text transform="translate(299.80 422.80) scale(1.110 1)" font-size="9.70" fill="#bcbc00" stroke="#bcbc00" stroke-width="0.25" text-anchor="start" font-weight="normal">PUMP</text>
<text x="299.80" y="435.30" font-size="10.75" fill="#bcbc00" stroke="#bcbc00" stroke-width="0.25" text-anchor="start" font-weight="normal">0300-PMC-0001</text>
<text x="647.40" y="431.30" font-size="10.75" fill="#bcbc00" stroke="#bcbc00" stroke-width="0.25" text-anchor="start" font-weight="normal">0300-PMC-0002</text>
<rect x="431.2" y="321.6" width="41.8" height="37.8" stroke="#aca700" stroke-width="1.4" fill="none"/>
<rect x="473" y="317.6" width="5.6" height="47.2" rx="1.2" stroke="#aca700" stroke-width="1.4" fill="none"/>
<path d="M478.60 322.20 L482.80 326.40 L487.20 326.40 L487.20 354.70 L482.80 354.70 L478.60 358.50" stroke="#aca700" stroke-width="1.30" fill="none" />
<circle cx="486.60" cy="340.60" r="2.50" stroke="#aca700" stroke-width="1.20" fill="none"/>
<path d="M489.40 340.60 L550.20 340.60" stroke="#868686" stroke-width="1.35" fill="none" />
<path d="M550.00 340.60 L546.00 338.80 L546.00 342.40 Z" stroke="#b4b4b4" stroke-width="0.60" fill="#b4b4b4" stroke-linejoin="round"/>
<path d="M421.30 331.40 L426.40 331.40 L431.20 335.80" stroke="#aca700" stroke-width="1.20" fill="none" />
<path d="M422.00 333.50 L431.20 344.60" stroke="#aca700" stroke-width="1.20" fill="none" />
<path d="M421.40 328.00 L424.80 331.40 L421.40 334.80 L418.00 331.40 Z" stroke="#868686" stroke-width="1.00" fill="none" stroke-linejoin="round"/>
<text x="489.20" y="354.30" font-size="10.75" fill="#a4a4a4" stroke="#a4a4a4" stroke-width="0.25" text-anchor="start" font-weight="normal">24</text>
<text transform="translate(416.80 384.60) scale(1.110 1)" font-size="9.70" fill="#bcbc00" stroke="#bcbc00" stroke-width="0.25" text-anchor="start" font-weight="normal">BALL MILL</text>
<text x="416.80" y="396.20" font-size="10.75" fill="#bcbc00" stroke="#bcbc00" stroke-width="0.25" text-anchor="start" font-weight="normal">0300-MLB-0001</text>
<rect x="330.90" y="374.80" width="32.08" height="4.80" fill="#00d800" fill-opacity="0.30" stroke="none"/>
<rect x="330.90" y="374.00" width="8.02" height="8.60" stroke="#00d800" stroke-width="0.8" fill="none"/>
<text x="334.91" y="379.40" font-size="6" fill="#00f000" text-anchor="middle" font-weight="bold" font-family="Liberation Sans">23</text>
<rect x="338.92" y="374.00" width="8.02" height="8.60" stroke="#00d800" stroke-width="0.8" fill="none"/>
<text x="342.93" y="379.40" font-size="6" fill="#00f000" text-anchor="middle" font-weight="bold" font-family="Liberation Sans">23</text>
<rect x="346.94" y="374.00" width="8.02" height="8.60" stroke="#00d800" stroke-width="0.8" fill="none"/>
<text x="350.95" y="379.40" font-size="6" fill="#00f000" text-anchor="middle" font-weight="bold" font-family="Liberation Sans">23</text>
<rect x="354.96" y="374.00" width="8.02" height="8.60" stroke="#00d800" stroke-width="0.8" fill="none"/>
<text x="358.97" y="379.40" font-size="6" fill="#00f000" text-anchor="middle" font-weight="bold" font-family="Liberation Sans">23</text>
<path d="M330.90 381.90 L362.98 381.90" stroke="#00d800" stroke-width="1.20" fill="none" />
<rect x="331.20" y="389.60" width="7.72" height="9.20" stroke="#00c4c4" stroke-width="1.1" fill="none"/>
<rect x="331.20" y="391.40" width="8.02" height="5.00" fill="#00c4c4" fill-opacity="0.32" stroke="none"/>
<text x="334.91" y="396.20" font-size="6" fill="#00e0e0" text-anchor="middle" font-weight="bold" font-family="Liberation Sans">X3</text>
<path d="M342.93 388.00 L346.93 391.10 L346.93 397.30 L342.93 400.40 L338.93 397.30 L338.93 391.10 Z" stroke="#00c4c4" stroke-width="0.95" fill="none" stroke-linejoin="round"/>
<rect x="338.93" y="391.40" width="8.00" height="5.00" fill="#00c4c4" fill-opacity="0.32" stroke="none"/>
<text x="342.93" y="396.20" font-size="6" fill="#00e0e0" text-anchor="middle" font-weight="bold" font-family="Liberation Sans">2I</text>
<path d="M350.95 388.00 L354.95 391.10 L354.95 397.30 L350.95 400.40 L346.95 397.30 L346.95 391.10 Z" stroke="#00c4c4" stroke-width="0.95" fill="none" stroke-linejoin="round"/>
<rect x="346.95" y="391.40" width="8.00" height="5.00" fill="#00c4c4" fill-opacity="0.32" stroke="none"/>
<text x="350.95" y="396.20" font-size="6" fill="#00e0e0" text-anchor="middle" font-weight="bold" font-family="Liberation Sans">2I</text>
<path d="M358.97 388.00 L362.97 391.10 L362.97 397.30 L358.97 400.40 L354.97 397.30 L354.97 391.10 Z" stroke="#00c4c4" stroke-width="0.95" fill="none" stroke-linejoin="round"/>
<rect x="354.97" y="391.40" width="8.00" height="5.00" fill="#00c4c4" fill-opacity="0.32" stroke="none"/>
<text x="358.97" y="396.20" font-size="6" fill="#00e0e0" text-anchor="middle" font-weight="bold" font-family="Liberation Sans">2I</text>
<rect x="377.50" y="343.80" width="48.12" height="4.80" fill="#00d800" fill-opacity="0.30" stroke="none"/>
<rect x="377.50" y="343.00" width="8.02" height="8.60" stroke="#00d800" stroke-width="0.8" fill="none"/>
<text x="381.51" y="348.40" font-size="6" fill="#00f000" text-anchor="middle" font-weight="bold" font-family="Liberation Sans">23</text>
<rect x="385.52" y="343.00" width="8.02" height="8.60" stroke="#00d800" stroke-width="0.8" fill="none"/>
<text x="389.53" y="348.40" font-size="6" fill="#00f000" text-anchor="middle" font-weight="bold" font-family="Liberation Sans">23</text>
<rect x="393.54" y="343.00" width="8.02" height="8.60" stroke="#00d800" stroke-width="0.8" fill="none"/>
<text x="397.55" y="348.40" font-size="6" fill="#00f000" text-anchor="middle" font-weight="bold" font-family="Liberation Sans">23</text>
<rect x="401.56" y="343.00" width="8.02" height="8.60" stroke="#00d800" stroke-width="0.8" fill="none"/>
<text x="405.57" y="348.40" font-size="6" fill="#00f000" text-anchor="middle" font-weight="bold" font-family="Liberation Sans">23</text>
<path d="M409.58 344.20 L413.59 342.00 L417.60 344.20 L417.60 351.60 L409.58 351.60 Z" stroke="#00d800" stroke-width="1.00" fill="none" stroke-linejoin="round"/>
<text x="413.59" y="348.40" font-size="6" fill="#00f000" text-anchor="middle" font-weight="bold" font-family="Liberation Sans">23</text>
<path d="M417.60 344.20 L421.61 342.00 L425.62 344.20 L425.62 351.60 L417.60 351.60 Z" stroke="#00d800" stroke-width="1.00" fill="none" stroke-linejoin="round"/>
<text x="421.61" y="348.40" font-size="6" fill="#00f000" text-anchor="middle" font-weight="bold" font-family="Liberation Sans">23</text>
<path d="M377.50 350.90 L425.62 350.90" stroke="#00d800" stroke-width="1.20" fill="none" />
<rect x="377.90" y="358.60" width="7.72" height="9.20" stroke="#00c4c4" stroke-width="1.1" fill="none"/>
<rect x="377.90" y="360.40" width="8.02" height="5.00" fill="#00c4c4" fill-opacity="0.32" stroke="none"/>
<text x="381.61" y="365.20" font-size="6" fill="#00e0e0" text-anchor="middle" font-weight="bold" font-family="Liberation Sans">X3</text>
<path d="M389.63 357.00 L393.63 360.10 L393.63 366.30 L389.63 369.40 L385.63 366.30 L385.63 360.10 Z" stroke="#00c4c4" stroke-width="0.95" fill="none" stroke-linejoin="round"/>
<rect x="385.63" y="360.40" width="8.00" height="5.00" fill="#00c4c4" fill-opacity="0.32" stroke="none"/>
<text x="389.63" y="365.20" font-size="6" fill="#00e0e0" text-anchor="middle" font-weight="bold" font-family="Liberation Sans">2I</text>
<rect x="651.20" y="351.60" width="32.08" height="4.80" fill="#00d800" fill-opacity="0.30" stroke="none"/>
<rect x="651.20" y="350.80" width="8.02" height="8.60" stroke="#00d800" stroke-width="0.8" fill="none"/>
<text x="655.21" y="356.20" font-size="6" fill="#00f000" text-anchor="middle" font-weight="bold" font-family="Liberation Sans">23</text>
<rect x="659.22" y="350.80" width="8.02" height="8.60" stroke="#00d800" stroke-width="0.8" fill="none"/>
<text x="663.23" y="356.20" font-size="6" fill="#00f000" text-anchor="middle" font-weight="bold" font-family="Liberation Sans">23</text>
<rect x="667.24" y="350.80" width="8.02" height="8.60" stroke="#00d800" stroke-width="0.8" fill="none"/>
<text x="671.25" y="356.20" font-size="6" fill="#00f000" text-anchor="middle" font-weight="bold" font-family="Liberation Sans">23</text>
<rect x="675.26" y="350.80" width="8.02" height="8.60" stroke="#00d800" stroke-width="0.8" fill="none"/>
<text x="679.27" y="356.20" font-size="6" fill="#00f000" text-anchor="middle" font-weight="bold" font-family="Liberation Sans">23</text>
<path d="M651.20 358.70 L683.28 358.70" stroke="#00d800" stroke-width="1.20" fill="none" />
<rect x="651.50" y="366.10" width="7.72" height="9.20" stroke="#00c4c4" stroke-width="1.1" fill="none"/>
<rect x="651.50" y="367.90" width="8.02" height="5.00" fill="#00c4c4" fill-opacity="0.32" stroke="none"/>
<text x="655.21" y="372.70" font-size="6" fill="#00e0e0" text-anchor="middle" font-weight="bold" font-family="Liberation Sans">X3</text>
<path d="M663.23 364.50 L667.23 367.60 L667.23 373.80 L663.23 376.90 L659.23 373.80 L659.23 367.60 Z" stroke="#00c4c4" stroke-width="0.95" fill="none" stroke-linejoin="round"/>
<rect x="659.23" y="367.90" width="8.00" height="5.00" fill="#00c4c4" fill-opacity="0.32" stroke="none"/>
<text x="663.23" y="372.70" font-size="6" fill="#00e0e0" text-anchor="middle" font-weight="bold" font-family="Liberation Sans">2I</text>
<path d="M671.25 364.50 L675.25 367.60 L675.25 373.80 L671.25 376.90 L667.25 373.80 L667.25 367.60 Z" stroke="#00c4c4" stroke-width="0.95" fill="none" stroke-linejoin="round"/>
<rect x="667.25" y="367.90" width="8.00" height="5.00" fill="#00c4c4" fill-opacity="0.32" stroke="none"/>
<text x="671.25" y="372.70" font-size="6" fill="#00e0e0" text-anchor="middle" font-weight="bold" font-family="Liberation Sans">2I</text>
<path d="M679.27 364.50 L683.27 367.60 L683.27 373.80 L679.27 376.90 L675.27 373.80 L675.27 367.60 Z" stroke="#00c4c4" stroke-width="0.95" fill="none" stroke-linejoin="round"/>
<rect x="675.27" y="367.90" width="8.00" height="5.00" fill="#00c4c4" fill-opacity="0.32" stroke="none"/>
<text x="679.27" y="372.70" font-size="6" fill="#00e0e0" text-anchor="middle" font-weight="bold" font-family="Liberation Sans">2I</text>
</svg>
</body></html>
